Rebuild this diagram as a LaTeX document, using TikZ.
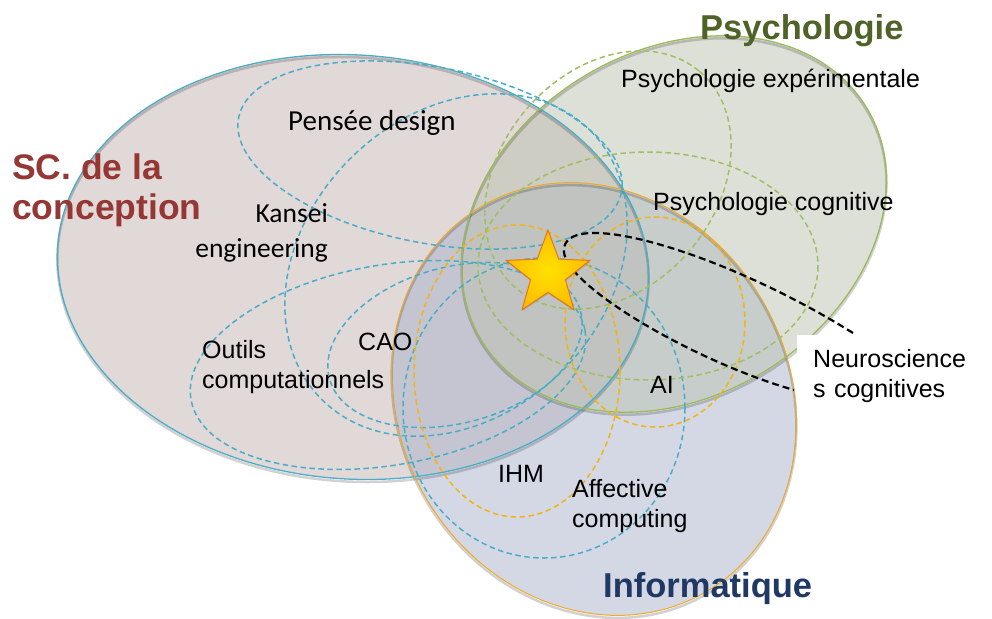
\documentclass[tikz,border=0pt]{standalone}
\usepackage{fontspec}
\setmainfont{Liberation Sans}
\newfontfamily\calibri{Carlito}
\usetikzlibrary{shapes.geometric,shadows}
\definecolor{scbord}{RGB}{75,172,198}
\definecolor{scfond}{RGB}{196,178,178}
\definecolor{psybord}{RGB}{155,187,89}
\definecolor{psyfond}{RGB}{188,194,176}
\definecolor{infobord}{RGB}{240,170,40}
\definecolor{infofond}{RGB}{168,178,202}
\definecolor{sctxt}{RGB}{149,55,53}
\definecolor{psytxt}{RGB}{79,98,40}
\definecolor{infotxt}{RGB}{31,56,100}
\definecolor{tirbleu}{RGB}{75,172,198}
\definecolor{tirvert}{RGB}{160,190,100}
\definecolor{tiror}{RGB}{240,180,20}
\definecolor{etoilefond}{RGB}{255,188,0}
\definecolor{etoilebord}{RGB}{228,120,20}
\tikzset{
  champ/.style   ={fill opacity=0.5},
  bord/.style    ={line width=1.3pt},
  ombre/.style   ={draw=black,opacity=0.18,line width=2.5pt,transform canvas={yshift=-2.5pt}},
  tir/.style     ={dash pattern=on 5.5pt off 3.5pt,line width=1.5pt},
  tirsc/.style   ={tir,draw=tirbleu},
  tirpsy/.style  ={tir,draw=tirvert},
  tirinfo/.style ={tir,draw=tiror},
  neuro/.style   ={dash pattern=on 7pt off 4pt,line width=2.2pt},
  lbl/.style     ={inner sep=0pt,font=\fontsize{25}{30}\selectfont},
  lblk/.style    ={inner sep=0pt,font=\calibri\fontsize{28}{35}\selectfont},
  titre/.style   ={inner sep=0pt,align=left,font=\bfseries\fontsize{34.5}{40}\selectfont},
  etoile/.style  ={star,star points=5,star point ratio=2.4,minimum size=88pt,inner sep=0pt,
                   inner color=yellow!55!etoilefond,outer color=etoilefond,draw=etoilebord,line width=1pt,
                   drop shadow={opacity=0.3,shadow xshift=0.5pt,shadow yshift=-1.5pt}},
}

\begin{document}
\begin{tikzpicture}[x=1pt,y=-1pt]
  \useasboundingbox (0,0) rectangle (992,618);
  \coordinate (sc) at (353,267);
  \coordinate (info) at (594,399);
  \coordinate (psy) at (674,224);
  % domaines
  \fill[scfond,champ,rotate around={-4:(sc)}] (sc) ellipse (296 and 212);
  \fill[infofond,champ,rotate around={30:(info)}] (info) ellipse (195 and 223);
  \fill[psyfond,champ,rotate around={31:(psy)}] (psy) ellipse (225 and 173);
  \draw[ombre,rotate around={-4:(sc)}] (sc) ellipse (296 and 212);
  \draw[ombre,rotate around={30:(info)}] (info) ellipse (195 and 223);
  \draw[ombre,rotate around={31:(psy)}] (psy) ellipse (225 and 173);
  \draw[bord,scbord,rotate around={-4:(sc)}] (sc) ellipse (296 and 212);
  \draw[bord,infobord,line width=1pt,rotate around={30:(info)}] (info) ellipse (195 and 223);
  \draw[bord,psybord,rotate around={31:(psy)}] (psy) ellipse (225 and 173);
  % sous-domaines
  \foreach \cx/\cy/\ra/\rb/\ang in {430/155/195/88/-11,456/265/190/150/45,388/365/200/100/10,455/345/130/78/15,544/408/141/150/0}
    \draw[tirsc,rotate around={\ang:(\cx,\cy)}] (\cx,\cy) ellipse [x radius=\ra,y radius=\rb];
  \foreach \cx/\cy/\ra/\rb/\ang in {517/371/103/146/0,655/322/90/105/0}
    \draw[tirinfo,rotate around={\ang:(\cx,\cy)}] (\cx,\cy) ellipse [x radius=\ra,y radius=\rb];
  \foreach \cx/\cy/\ra/\rb/\ang in {608/180/142/108/50,648/266/170/114/0}
    \draw[tirpsy,rotate around={\ang:(\cx,\cy)}] (\cx,\cy) ellipse [x radius=\ra,y radius=\rb];
  % neurosciences
  \coordinate (nA) at (853,333);
  \coordinate (crochet) at (564,252);
  \coordinate (nB) at (794,390);
  \draw[neuro] (nA) .. controls (720,250) and (560,205) .. (crochet)
        .. controls (566,285) and (690,360) .. (nB);
  \node[lbl,fill=white,anchor=north west,minimum width=193pt,minimum height=82pt,
        text width=161pt,inner xsep=16pt,align=left]
        (neurolbl) at (797,335) {Neuroscience\\s cognitives};
  \node[etoile] (star) at (548,274) {};
  % textes
  \node[titre,text=sctxt,anchor=north west,font=\bfseries\fontsize{35.5}{40}\selectfont] (titresc) at (12,154) {SC. de la\\conception};
  \node[titre,text=psytxt,anchor=base west] (titrepsy) at (700,40) {Psychologie};
  \node[titre,text=infotxt,anchor=base west] (titreinfo) at (603,597) {Informatique};
  \node[lblk,anchor=base west,font=\calibri\fontsize{29}{35}\selectfont] (pensee) at (288,130) {Pensée design};
  \node[lblk,anchor=north east,align=right,font=\calibri\fontsize{27.5}{35}\selectfont] (kansei) at (328,203) {Kansei\\engineering};
  \node[lbl,anchor=north west,align=left] (outils) at (202,340) {Outils\\computationnels};
  \node[lbl,anchor=base west] (cao) at (358,350) {CAO};
  \node[lbl,anchor=base west] (psyexp) at (621,87) {Psychologie expérimentale};
  \node[lbl,anchor=base west] (psycog) at (653,210) {Psychologie cognitive};
  \node[lbl,anchor=base west] (ai) at (650,393) {AI};
  \node[lbl,anchor=base west] (ihm) at (498,482) {IHM};
  \node[lbl,anchor=north west,align=left] (affect) at (572,479) {Affective\\computing};
\end{tikzpicture}
\end{document}
